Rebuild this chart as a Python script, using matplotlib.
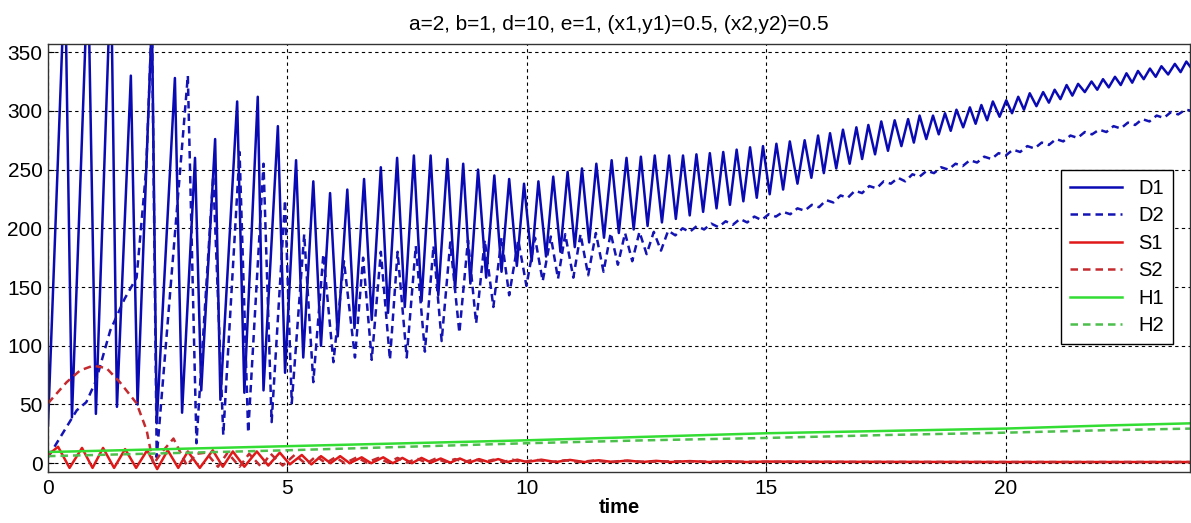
import numpy as np
import matplotlib
matplotlib.use("Agg")
import matplotlib.pyplot as plt

# ── Data (extremes of each oscillating curve) ────────────────────────────────
# D1: peaks and troughs
d1_peak_t = [0.355, 0.835, 1.315, 1.73, 2.17, 2.65, 3.07, 3.49, 3.95, 4.38, 4.80,
             5.18, 5.54, 5.89, 6.25, 6.60, 6.95, 7.29, 7.64, 7.99, 8.34, 8.67,
             8.98, 9.32, 9.63, 9.94, 10.24, 10.55, 10.85, 11.15, 11.45, 11.77,
             12.08, 12.38, 12.67, 12.97, 13.26, 13.54, 13.82, 14.10, 14.38,
             14.66, 14.93, 15.21, 15.49, 15.80, 16.08, 16.33, 16.60, 16.88,
             17.13, 17.40, 17.68, 17.96, 18.20, 18.48, 18.73, 18.97, 19.25,
             19.49, 19.73, 20.01, 20.26, 20.50, 20.78, 21.02, 21.27, 21.51,
             21.79, 22.03, 22.28, 22.52, 22.76, 23.01, 23.25, 23.53, 23.77]
d1_peak_v = [420, 420, 420, 330, 380, 328, 260, 276, 308, 312, 287,
             258, 240, 230, 233, 242, 252, 260, 262, 262, 259, 255,
             250, 245, 242, 238, 240, 244, 248, 251, 255, 258,
             260, 261, 262, 262, 262, 263, 264, 265, 267,
             269, 270, 272, 274, 275, 279, 281, 284, 286,
             288, 291, 292, 293, 296, 296, 298, 301, 303,
             305, 308, 309, 312, 315, 316, 318, 322, 323,
             325, 327, 329, 332, 334, 336, 338, 340, 342]
d1_trough_t = [0.00, 0.50, 1.00, 1.44, 1.87, 2.27, 2.80, 3.20, 3.60, 4.10, 4.50,
               4.95, 5.33, 5.70, 6.05, 6.40, 6.76, 7.10, 7.45, 7.80, 8.15, 8.50,
               8.82, 9.15, 9.47, 9.79, 10.10, 10.40, 10.70, 11.00, 11.30, 11.61,
               11.92, 12.23, 12.52, 12.82, 13.11, 13.40, 13.68, 13.96, 14.24,
               14.52, 14.80, 15.07, 15.35, 15.65, 15.94, 16.20, 16.46, 16.74,
               17.00, 17.27, 17.54, 17.82, 18.08, 18.34, 18.60, 18.85, 19.11,
               19.37, 19.61, 19.87, 20.13, 20.38, 20.64, 20.90, 21.14, 21.39,
               21.65, 21.91, 22.15, 22.40, 22.64, 22.88, 23.13, 23.39, 23.65,
               23.90]
d1_trough_v = [32, 39, 42, 48, 50, 34, 43, 62, 54, 60, 62,
               77, 90, 100, 108, 115, 122, 128, 133, 138, 143, 148,
               153, 158, 163, 168, 172, 176, 180, 184, 188, 192,
               196, 199, 202, 205, 208, 211, 214, 217, 220,
               223, 226, 229, 233, 238, 243, 247, 251, 255,
               259, 263, 266, 270, 273, 276, 280, 283, 286,
               289, 292, 295, 298, 301, 304, 307, 310, 313,
               316, 318, 320, 322, 324, 327, 329, 331, 333,
               335]

# D2: points along the dashed blue curve
d2_t = [0.0, 0.3, 0.6, 0.8, 1.0, 1.3, 1.6, 1.85, 2.05, 2.17, 2.27, 2.92, 3.10,
        3.45, 3.66, 4.00, 4.18, 4.50, 4.67, 4.95, 5.09, 5.35, 5.54, 5.75, 5.96,
        6.18, 6.41, 6.58, 6.76, 6.95, 7.14, 7.30, 7.49, 7.68, 7.87, 8.05, 8.22,
        8.40, 8.59, 8.77, 8.94, 9.12, 9.30, 9.47, 9.63, 9.82, 9.99, 10.17,
        10.33, 10.50, 10.65, 10.80, 10.97, 11.12, 11.28, 11.44, 11.60, 11.75,
        11.90, 12.05, 12.20, 12.35, 12.50, 12.65, 12.80, 12.95, 13.10, 13.25,
        13.40, 13.55, 13.70, 13.85, 14.00, 14.15, 14.30, 14.45, 14.60, 14.75,
        14.90, 15.05, 15.20, 15.35, 15.50, 15.65, 15.80, 15.95, 16.10, 16.25,
        16.40, 16.55, 16.70, 16.85, 17.00, 17.15, 17.30, 17.45, 17.60, 17.75,
        17.90, 18.05, 18.20, 18.35, 18.50, 18.65, 18.80, 18.95, 19.10, 19.25,
        19.40, 19.55, 19.70, 19.85, 20.00, 20.15, 20.30, 20.45, 20.60, 20.75,
        20.90, 21.05, 21.20, 21.35, 21.50, 21.65, 21.80, 21.95, 22.10, 22.25,
        22.40, 22.55, 22.70, 22.85, 23.00, 23.15, 23.30, 23.45, 23.60, 23.75,
        23.90]
d2_v = [5, 25, 45, 52, 70, 113, 140, 158, 250, 380, 5, 330, 17,
        245, 24, 265, 26, 255, 35, 224, 51, 195, 69, 178, 86,
        172, 90, 175, 88, 180, 88, 180, 90, 185, 95, 185, 104,
        188, 111, 190, 119, 190, 133, 192, 143, 190, 151, 192,
        155, 193, 157, 195, 158, 195, 160, 196, 163, 196,
        169, 196, 172, 197, 178, 197, 181, 198, 194, 200,
        197, 202, 199, 204, 201, 206, 203, 208, 205, 210,
        207, 212, 210, 214, 212, 217, 215, 220, 218, 224,
        222, 228, 226, 232, 230, 236, 234, 240, 238, 243,
        240, 246, 244, 249, 247, 252, 250, 255, 253, 258,
        256, 261, 259, 264, 262, 267, 265, 270, 268, 273,
        271, 276, 274, 279, 277, 282, 280, 284, 282, 287,
        285, 290, 288, 293, 291, 296, 294, 299, 297, 301,
        300]

# S1: solid red
s1_t = [0.0, 0.21, 0.45, 0.71, 0.93, 1.15, 1.38, 1.61, 1.84, 2.07, 2.28, 2.50,
        2.72, 2.92, 3.17, 3.44, 3.65, 3.86, 4.10, 4.36, 4.60, 4.84, 5.05, 5.30,
        5.50, 5.70, 5.90, 6.10, 6.30, 6.55, 6.75, 7.00, 7.20, 7.40, 7.60, 7.80,
        8.00, 8.20, 8.40, 8.60, 8.80, 9.00, 9.20, 9.40, 9.60, 9.80, 10.0, 10.3,
        10.6, 10.9, 11.2, 11.5, 11.8, 12.1, 12.4, 12.7, 13.0, 13.4, 13.8, 14.2,
        14.6, 15.0, 16.0, 18.0, 20.0, 23.9]
s1_v = [7, 14, -4, 13, -4, 13, -4, 12, -4, 11, -5, 11,
        -4, 10, -4, 11, -3, 10, -3, 10, -2, 9, -1, 7,
        -1, 6, 0, 6, 0, 5, 0, 5, 0, 4.5, 0, 4.5,
        0.5, 4, 0.5, 4, 0.5, 3.5, 1, 3.5, 1, 3, 1, 3,
        1, 2.8, 1, 2.5, 1, 2.3, 1, 2, 1, 1.8, 1, 1.6,
        1, 1.4, 1.2, 1.1, 1.0, 1.0]

# S2: dashed red (hump, then small oscillation)
s2_t = [0.0, 0.39, 0.67, 0.94, 1.22, 1.50, 1.85, 2.06, 2.20, 2.35, 2.62, 2.90,
        3.10, 3.30, 3.55, 3.75, 4.00, 4.20, 4.45, 4.65, 4.90, 5.15, 5.40, 5.60,
        5.80, 6.00, 6.20, 6.45, 6.65, 6.90, 7.10, 7.30, 7.50, 7.70, 7.90, 8.10,
        8.30, 8.50, 8.70, 8.90, 9.10, 9.30, 9.50, 9.70, 9.90, 10.2, 10.5, 10.8,
        11.1, 11.4, 11.7, 12.0, 12.5, 13.0, 14.0, 16.0, 20.0, 23.9]
s2_v = [51, 69, 79, 83, 81, 69, 51, 28, -1, 8, 21, -2,
        8, 9, -3, 9, -3, 8, -3, 8, -2, 7, -1, 6,
        0, 5, 0, 5, 0.5, 4.5, 0.5, 4.5, 0.5, 4, 0.5, 4,
        1, 3.5, 1, 3.5, 1, 3, 1, 3, 1, 2.8, 1, 2.5,
        1, 2.3, 1, 2, 1.2, 1.6, 1.2, 1.1, 1.0, 1.0]

# H1 / H2: slowly rising green curves
h_t = [0.0, 2.0, 5.0, 7.5, 10.0, 12.5, 15.0, 17.5, 20.0, 22.0, 23.9]
h1_v = [9.5, 11.5, 14.5, 17.0, 19.5, 22.5, 25.5, 27.5, 29.5, 32.0, 34.0]
h2_v = [6.0, 8.0, 11.0, 14.0, 17.0, 19.5, 21.5, 24.0, 26.0, 28.0, 29.5]

x_ticks = [0, 5, 10, 15, 20]
y_ticks = [0, 50, 100, 150, 200, 250, 300, 350]
title = "a=2, b=1, d=10, e=1, (x1,y1)=0.5, (x2,y2)=0.5"


def merge(pt, pv, tt, tv):
    t = np.array(pt + tt)
    v = np.array(pv + tv)
    order = np.argsort(t)
    return t[order], v[order]


d1_t, d1_v = merge(d1_peak_t, d1_peak_v, d1_trough_t, d1_trough_v)

plt.rcParams["font.family"] = ["Liberation Sans", "DejaVu Sans"]
plt.rcParams["font.size"] = 15

fig = plt.figure(figsize=(11.91, 5.23), dpi=100)
ax = fig.add_axes([0.0403, 0.0975, 0.9590, 0.8185])

dash = (0, (3, 2))
lw = 1.8
ax.plot(d1_t, d1_v, color="#0a0ab4", lw=lw, label="D1")
ax.plot(d2_t, d2_v, color="#1414b4", lw=lw, linestyle=dash, label="D2")
ax.plot(s1_t, s1_v, color="#e01818", lw=lw, label="S1")
ax.plot(s2_t, s2_v, color="#c42a2e", lw=lw, linestyle=dash, label="S2")
ax.plot(h_t, h1_v, color="#33dd33", lw=lw, label="H1")
ax.plot(h_t, h2_v, color="#4cbf4c", lw=lw, linestyle=dash, label="H2")

ax.set_xlim(0, 23.85)
ax.set_ylim(-7.5, 357)
ax.set_xticks(x_ticks)
ax.set_yticks(y_ticks)
ax.tick_params(axis="y", direction="in", length=4, width=0.8, pad=4, labelsize=15)
ax.tick_params(axis="x", direction="in", length=4, width=0.8, pad=5, labelsize=15)
ax.grid(True, color="black", linestyle=(0, (3, 3)), linewidth=0.8)
for s in ax.spines.values():
    s.set_color("#333333")
    s.set_linewidth(1.0)

ax.set_title(title, fontsize=15, pad=10)
ax.set_xlabel("time", fontsize=14.5, fontweight="bold", labelpad=0)

leg = ax.legend(loc="upper right", bbox_to_anchor=(0.985, 0.706),
                borderaxespad=0, fontsize=14.5, handlelength=2.6,
                labelspacing=0.42, fancybox=False, framealpha=1,
                edgecolor="black", borderpad=0.45, handletextpad=0.8)
leg.get_frame().set_linewidth(1.0)

fig.savefig("out.png", dpi=100)
